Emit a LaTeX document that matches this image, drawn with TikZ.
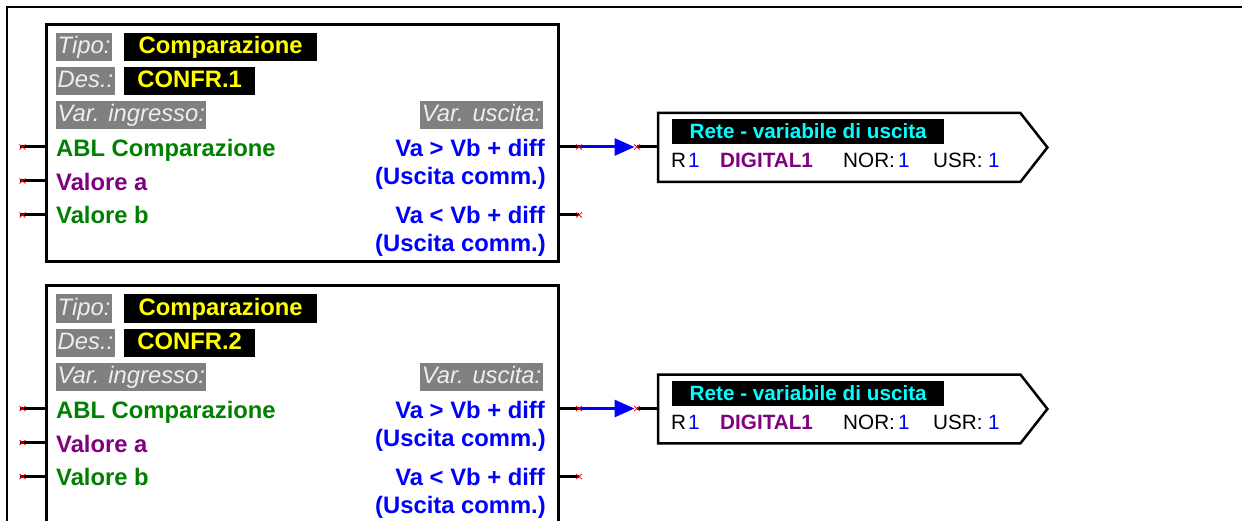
\documentclass[tikz,border=0pt]{standalone}
\usepackage{fontspec}
\setmainfont{Liberation Sans}
\usetikzlibrary{arrows.meta,calc}
\definecolor{cgreen}{RGB}{0,128,0}
\definecolor{cpurple}{RGB}{128,0,128}
\definecolor{cblue}{RGB}{0,0,255}
\definecolor{ccyan}{RGB}{0,255,255}
\definecolor{cyell}{RGB}{255,255,0}
\definecolor{cgraybox}{RGB}{128,128,128}
\definecolor{cgraytext}{RGB}{238,238,238}
\tikzset{
  bigb/.style={font=\fontsize{23.8}{26}\selectfont\bfseries, inner sep=0pt},
  smallr/.style={font=\fontsize{20.7}{24}\selectfont, inner sep=0pt},
  smallb/.style={font=\fontsize{20.7}{24}\selectfont\bfseries, inner sep=0pt},
  graybox/.style={fill=cgraybox, text=cgraytext, font=\fontsize{23.8}{26}\selectfont\itshape,
    inner xsep=1.5pt, inner ysep=1pt, text height=20pt, text depth=6pt},
  blackbox/.style={fill=black, text=cyell, font=\fontsize{23.8}{26}\selectfont\bfseries,
    inner xsep=0pt, inner ysep=1pt, text height=20pt, text depth=6pt, align=center},
  titlebox/.style={fill=black, text=ccyan, font=\fontsize{20.7}{24}\selectfont\bfseries,
    inner xsep=0pt, inner ysep=0pt, text height=20pt, text depth=5pt, align=center},
  block/.style={draw=black, line width=3pt, minimum width=512.6pt, inner sep=0pt},
  obox/.style={minimum width=362pt, minimum height=68.5pt, inner sep=0pt},
  oline/.style={draw=black, line width=2.5pt, line join=miter},
  pin/.style={draw=black, line width=3pt},
  wire/.style={draw=cblue, line width=3pt, -{Triangle[length=20pt,width=17pt]}, shorten >=2.5pt},
  frameline/.style={draw=black, line width=2pt},
  xmark/.pic={\draw[red, line width=0.8pt] (-3,-2.5) -- (3,2.5) (-3,2.5) -- (3,-2.5);}
}
\newcommand\confrblock[4]{%
\begin{scope}[shift={(0,#3)}]
  % block
  \node[block, anchor=north west, minimum height=#4] (b#1) at (44.7,22.8) {};
  % header
  \node[graybox, anchor=base west] (tipo#1) at (56,54) {Tipo:};
  \node[blackbox, minimum width=193pt, anchor=base west] (tipov#1) at (124,54) {Comparazione};
  \node[graybox, anchor=base west] (des#1) at (56,88) {Des.:};
  \node[blackbox, minimum width=131pt, anchor=base west] (desv#1) at (124,88) {#2};
  \node[graybox, anchor=base west] (vin#1) at (56,122) {Var. ingresso:};
  \node[graybox, anchor=base east] (vout#1) at (543,122) {Var. uscita:};
  % inputs
  \node[bigb, text=cgreen, anchor=base west] (ia#1) at (56,157) {ABL Comparazione};
  \node[bigb, text=cpurple, anchor=base west] (ib#1) at (56,190.5) {Valore a};
  \node[bigb, text=cgreen, anchor=base west] (ic#1) at (56,224) {Valore b};
  % outputs
  \node[bigb, text=cblue, anchor=base east] (oa#1) at (545,157) {Va > Vb + diff};
  \node[bigb, text=cblue, anchor=base east] (oc#1) at (546,185) {(Uscita comm.)};
  \node[bigb, text=cblue, anchor=base east] (ob#1) at (545,224) {Va < Vb + diff};
  \node[bigb, text=cblue, anchor=base east] (od#1) at (546,251.5) {(Uscita comm.)};
  % input pins
  \coordinate (pa#1) at (20,147);
  \coordinate (pb#1) at (20,181);
  \coordinate (pc#1) at (20,215);
  \draw[pin] (pa#1) -- (b#1.west |- pa#1);
  \draw[pin] (pb#1) -- (b#1.west |- pb#1);
  \draw[pin] (pc#1) -- (b#1.west |- pc#1);
  \pic at ($(pa#1)+(2.5,0)$) {xmark};
  \pic at ($(pb#1)+(2.5,0)$) {xmark};
  \pic at ($(pc#1)+(2.5,0)$) {xmark};
  % output pins
  \coordinate (qa#1) at (579,147);
  \coordinate (qb#1) at (579,215);
  \draw[pin] (b#1.east |- qa#1) -- (qa#1);
  \draw[pin] (b#1.east |- qb#1) -- (qb#1);
  \pic at (qb#1) {xmark};
  % output variable box
  \node[obox, anchor=north west] (o#1) at (658,113) {};
  \draw[oline] (o#1.north west) -- (o#1.north east) -- ($(o#1.east)+(27,0)$)
     -- (o#1.south east) -- (o#1.south west) -- cycle;
  \node[titlebox, minimum width=272pt, anchor=base west] (ot#1) at (672,139) {Rete - variabile di uscita};
  \node[smallr, anchor=base west] (r#1) at (671,168) {R};
  \node[smallr, text=cblue, anchor=base west] (r1#1) at (688,168) {1};
  \node[smallb, text=cpurple, anchor=base west] (dg#1) at (720,168) {DIGITAL1};
  \node[smallr, anchor=base west] (nor#1) at (843,168) {NOR:};
  \node[smallr, text=cblue, anchor=base west] (nor1#1) at (898,168) {1};
  \node[smallr, anchor=base west] (usr#1) at (933,168) {USR:};
  \node[smallr, text=cblue, anchor=base west] (usr1#1) at (988,168) {1};
  % connection
  \coordinate (oi#1) at (637,147);
  \draw[pin] (oi#1) -- (o#1.west |- oi#1);
  \draw[wire] (qa#1) -- (oi#1);
  \pic at (qa#1) {xmark};
  \pic at (oi#1) {xmark};
\end{scope}}
\begin{document}
\begin{tikzpicture}[x=1pt,y=-1pt]
  \useasboundingbox[fill=white] (0,0) rectangle (1242,521);
  \clip (0,0) rectangle (1242,521);
  \draw[frameline] (7,525) -- (7,7) -- (1245,7);
  \confrblock{1}{CONFR.1}{0}{237.2pt}
  \confrblock{2}{CONFR.2}{261.5}{260pt}
\end{tikzpicture}
\end{document}
